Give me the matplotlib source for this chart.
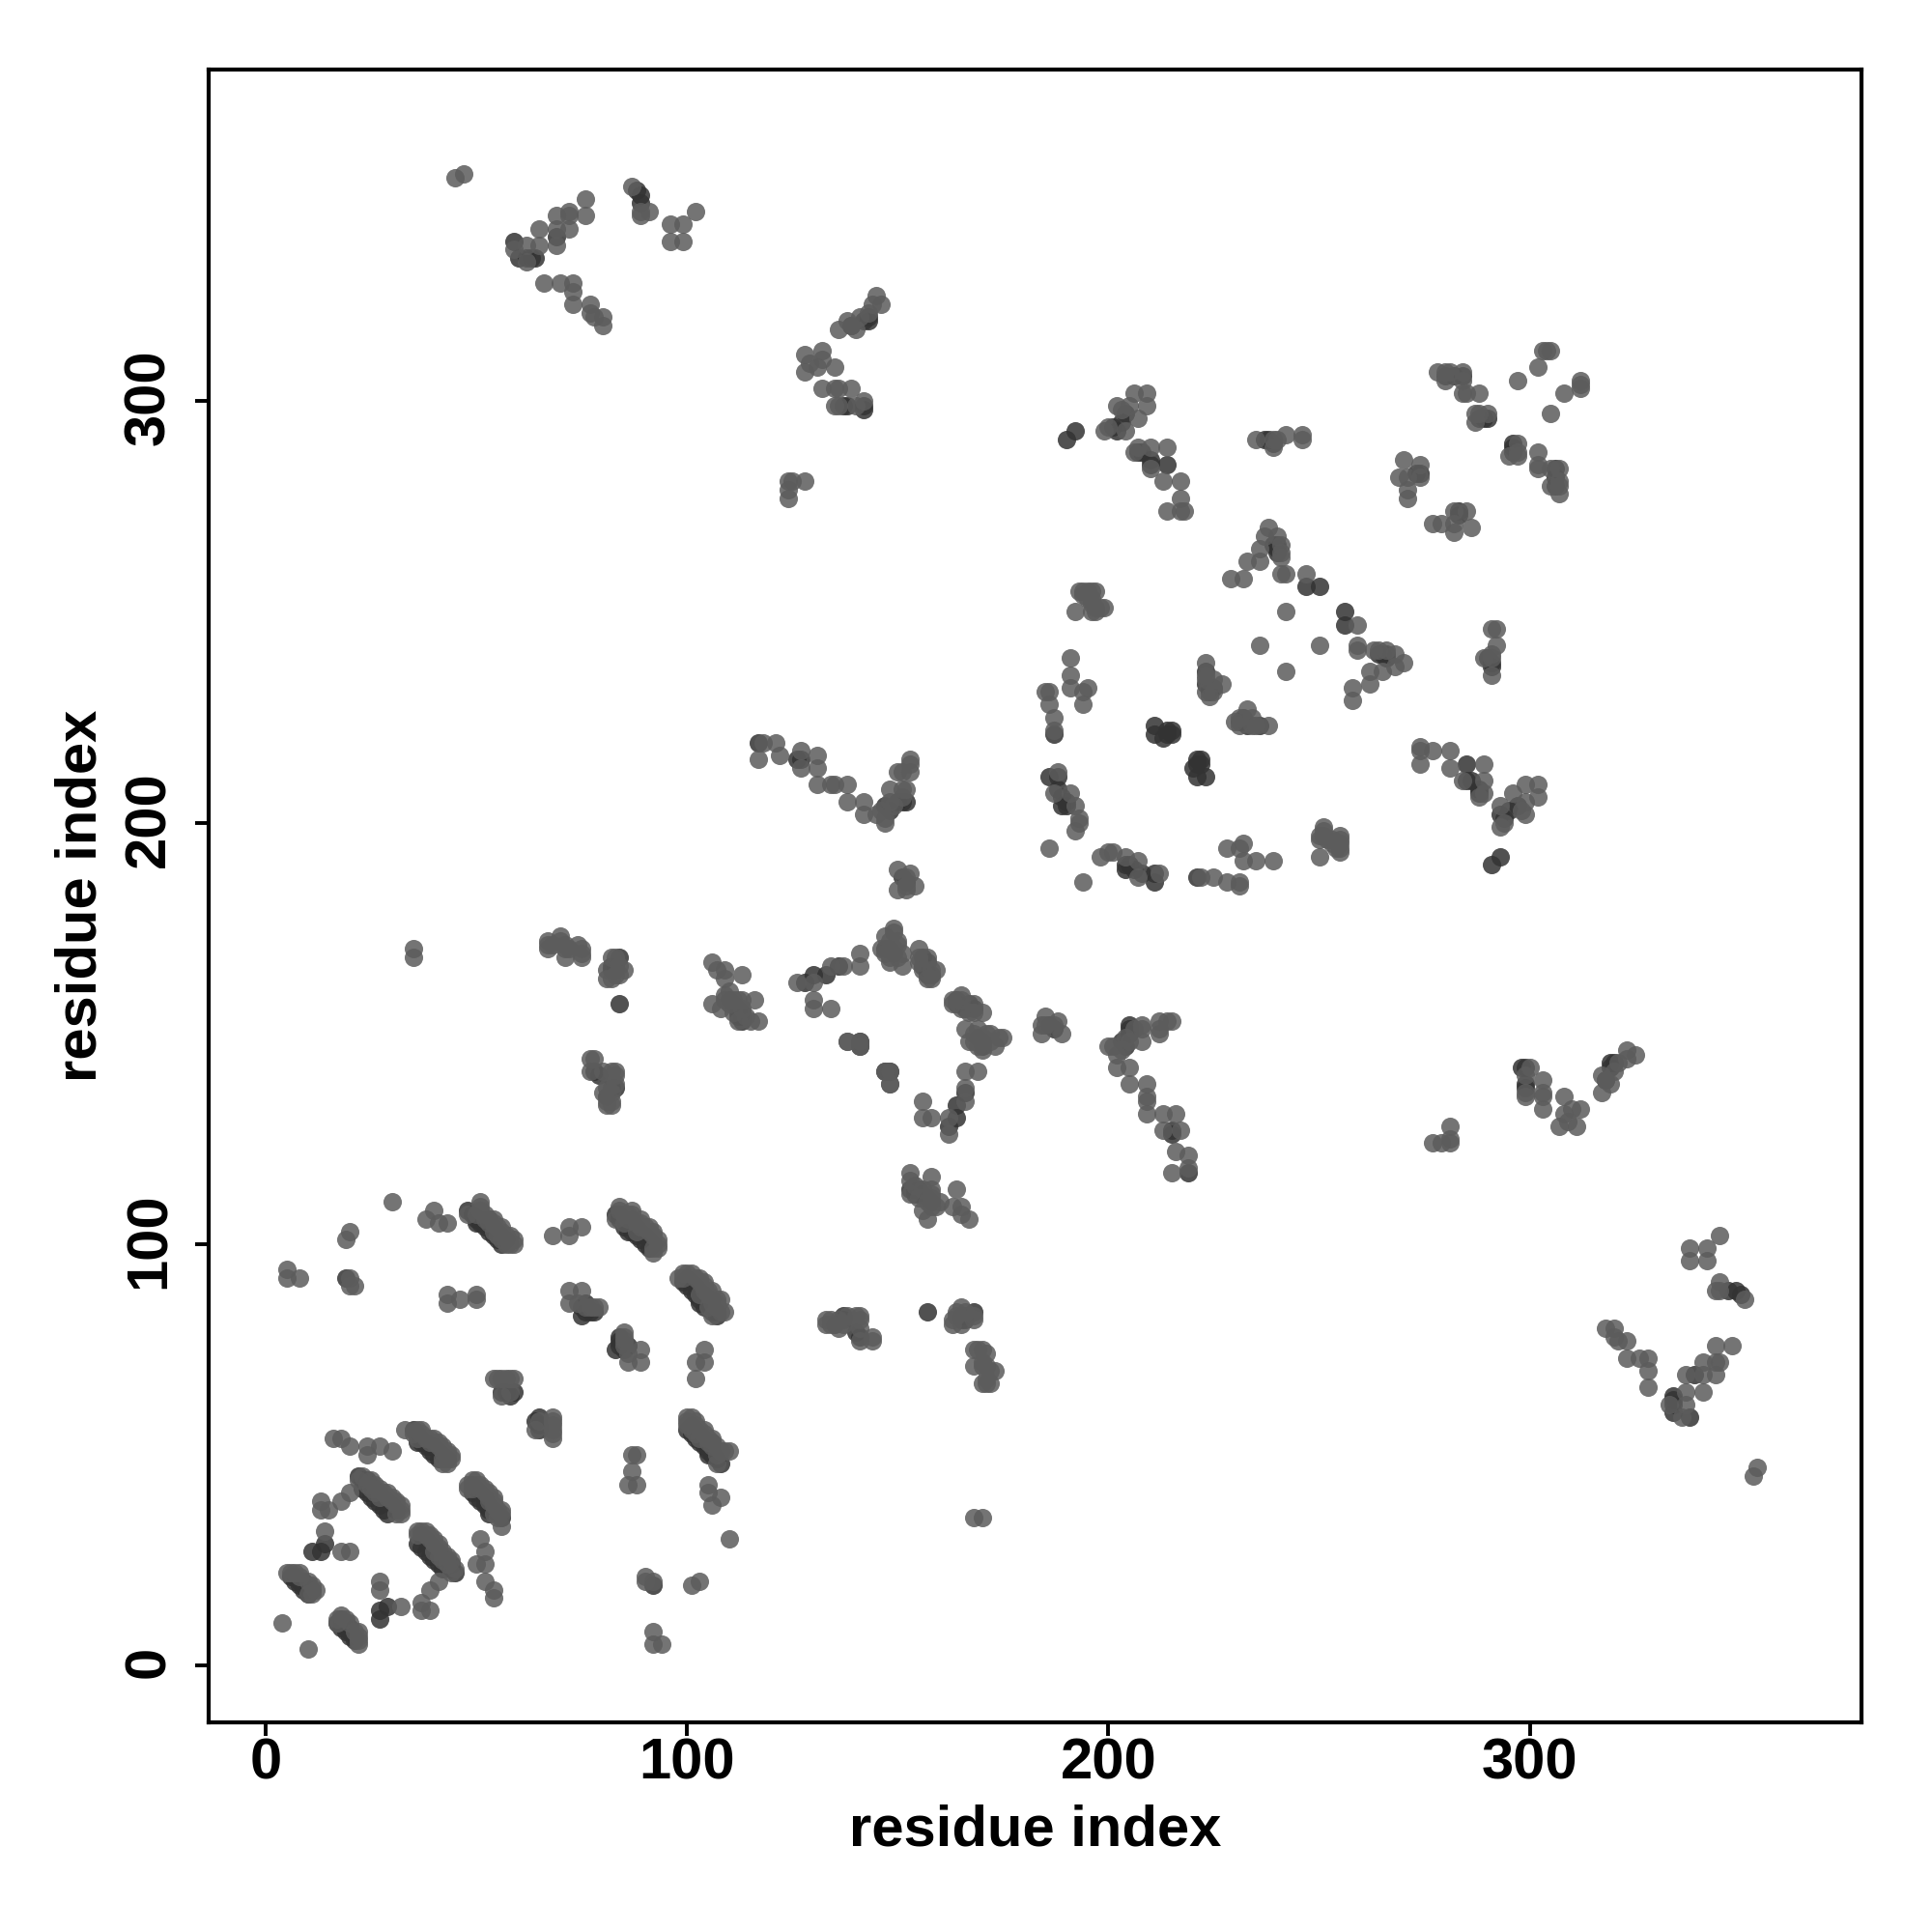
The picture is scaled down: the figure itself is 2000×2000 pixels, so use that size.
#!/usr/bin/env python3
# Residue contact map, symmetric: only the i < j half is listed and then mirrored
import matplotlib
matplotlib.use('Agg')
import matplotlib.pyplot as plt
from matplotlib.transforms import ScaledTranslation
import numpy as np

plt.rcParams['font.family'] = ['Liberation Sans', 'DejaVu Sans']
plt.rcParams['font.weight'] = 'bold'

ticks = [0, 100, 200, 300]
axis_label = 'residue index'

# contacts in darker shade, drawn first
contacts_dark = [
    (6,21),(7,21),(8,20),(9,20),(9,19),(10,19),(10,18),(11,18),(7,20),(8,19),(9,18),(10,17),
    (19,92),(13,27),(14,29),(11,27),
    (22,45),(23,44),(24,44),(25,43),(26,42),(27,41),(28,40),(29,39),(30,38),(31,37),
    (23,42),(24,41),(25,40),(26,39),(27,38),(28,37),(29,36),
    (35,56),(36,55),(37,54),(38,53),(39,52),(40,52),(41,51),(42,50),(43,49),
    (36,53),(37,53),(38,52),(39,51),(40,50),(41,49),
    (48,108),(49,107),(50,106),(51,106),(52,105),(53,106),(53,104),(54,104),(55,103),(56,102),(57,101),
    (50,105),(51,105),(52,104),(53,103),(54,102),(55,101),(56,100),
    (56,65),(57,65),(58,64),(59,65),
    (75,83),(76,84),(77,84),(78,84),(75,85),(76,86),
    (83,107),(84,107),(84,106),(85,106),(86,105),(87,106),(87,104),(88,104),(89,103),(90,102),(91,101),(92,100),
    (85,104),(86,103),(87,103),(88,102),(89,101),(90,100),(91,99),
    (82,166),(83,166),(82,165),(83,165),(84,168),
    (84,157),
    (78,141),(79,140),(82,137),(83,137),(81,135),
    (110,158),(111,157),(112,156),(112,155),(113,155),(113,154),(112,154),(113,153),
    (128,162),(130,164),(133,164),(136,166),
    (147,141),(148,141),
    (148,170),(149,169),(147,170),
    (156,168),(157,167),(157,165),(156,166),(158,164),(157,164),
    (147,204),(148,203),(150,205),(151,205),(152,205),
    (117,219),(126,215),(127,215),
    (151,187),(152,186),
    (187,221),(186,211),(188,211),(188,208),(189,206),(190,205),(189,204),(190,204),
    (211,223),(211,221),(214,221),(215,221),(214,222),(215,222),(213,220),
    (223,236),(223,233),(224,232),(225,232),(224,231),
    (239,266),(240,266),(240,265),(240,264),
    (247,256),(250,256),
    (192,293),(190,291),(201,294),(202,293),(203,295),(204,297),
    (207,288),(208,288),(210,286),(210,285),(214,285),
    (237,291),(238,291),(239,290),
    (137,299),(138,299),(142,299),(142,298),(143,319),(143,320),(142,319),(139,318),
    (60,334),(62,334),(63,334),(64,334),(59,338),(69,339),
    (88,350),(89,349),(89,347),
    (280,306),(282,306),(284,306),(288,296),(289,296),(290,296),
    (273,283),(274,283),
]

# single contacts and the lighter edge of the strips
contacts_light = [
    (4,10),
    (5,22),(6,22),(7,22),(8,22),(8,21),(10,20),(11,19),(12,18),(10,17),(11,17),
    (5,92),(5,94),(8,92),(20,92),(20,90),(21,90),(19,101),(20,103),
    (14,32),(18,27),(20,27),(13,39),(13,37),(15,37),(18,39),(20,41),
    (16,54),(18,54),(20,52),(24,52),(27,52),(30,51),(24,50),
    (23,45),(22,44),(24,43),(25,42),(26,43),(27,40),(28,41),(29,40),(30,39),(31,38),(32,37),(32,36),(31,36),(26,41),
    (25,44),(27,42),(29,41),(30,40),(31,39),(32,38),
    (33,56),(36,56),(37,56),(35,55),(37,55),(36,54),(38,54),(39,54),(39,53),(40,53),(41,52),(42,51),(42,49),(43,50),(44,50),(44,49),(43,48),(42,48),
    (40,54),(41,53),(42,52),(43,51),
    (30,110),(38,106),(40,108),(41,105),(43,105),
    (48,107),(51,110),(51,109),(51,108),(50,107),(52,106),(53,105),(54,105),(54,103),(55,104),(55,102),(56,103),(56,101),(57,102),(58,102),(58,100),(59,100),(59,101),
    (52,107),(54,106),(56,104),(57,100),
    (43,88),(43,86),(46,87),(50,88),(50,87),
    (54,68),(55,68),(56,68),(56,64),(57,68),(58,68),(59,68),(58,65),
    (68,102),(72,104),(72,102),(75,104),(72,89),(75,89),(72,86),(74,86),(79,85),(78,85),(77,85),(76,85),
    (84,109),(84,108),(83,106),(85,107),(85,105),(86,107),(86,106),(87,107),(88,105),(88,103),(89,105),(89,104),(90,104),(91,103),(92,103),(92,102),(92,99),(92,98),(93,101),(93,100),(93,99),
    (87,108),(89,106),(91,104),
    (35,170),(35,168),
    (67,172),(67,170),(67,171),(68,171),(70,173),(70,172),(71,171),(71,170),(71,168),(72,170),(74,171),(75,170),(75,169),(75,168),
    (82,168),(83,168),(84,166),(85,165),(81,165),(81,163),(82,163),(83,164),(84,164),
    (77,144),(78,144),(77,141),(80,141),(82,141),(83,141),(83,140),(83,138),(81,137),(80,136),(82,136),(81,133),(82,133),(81,134),(82,134),
    (106,167),(107,165),(109,165),(113,164),(109,163),(106,157),(110,160),(109,159),(109,158),(110,157),(108,156),(111,158),(112,158),(113,158),(116,158),(111,155),(114,154),(112,153),(115,153),(117,153),(113,156),
    (126,162),(130,162),(134,166),(137,166),(141,169),(141,166),(130,158),(130,156),(134,156),(138,148),(141,148),(141,147),(148,138),
    (149,175),(149,174),(147,173),(148,172),(150,172),(150,171),(146,170),(149,170),(151,169),(148,168),(147,169),(151,166),(150,168),(148,167),
    (155,170),(155,168),(157,168),(155,167),(158,165),(159,165),(156,165),(157,163),(158,163),
    (117,215),(118,219),(121,219),(122,216),(127,217),(131,216),(127,213),(131,213),(131,209),
    (134,209),(135,209),(138,209),(138,205),(142,205),(142,202),(145,202),
    (147,200),(147,201),(146,203),(148,205),(149,204),(148,208),(151,206),(152,208),(151,208),(150,212),(151,212),(153,212),(153,214),(153,215),
    (150,189),(153,188),(154,185),(150,184),(152,184),(152,185),(152,187),
    (192,250),(196,250),(197,250),(197,251),(199,251),(198,251),(196,252),(197,255),(194,255),(195,255),(196,255),(193,255),(194,254),(195,253),(196,253),
    (191,239),(191,235),(191,232),(195,232),(194,228),(194,231),
    (186,231),(185,231),(186,228),(187,225),(187,222),(186,194),
    (188,212),(191,207),(187,207),(192,204),(193,200),(192,198),(193,201),
    (223,238),(223,234),(225,234),(227,233),(223,231),(225,231),(224,230),(223,235),
    (229,258),(232,258),(233,262),(236,262),(236,265),(238,270),(237,268),(240,268),(241,266),(241,264),(241,263),(241,259),(242,259),(247,259),
    (236,242),(242,250),
    (199,293),(200,294),(204,293),(202,299),(203,298),(205,299),(207,296),(206,302),(209,302),(209,299),
    (206,288),(207,289),(210,289),(214,289),(210,284),(213,281),(217,281),(217,277),(214,274),(217,274),(218,274),
    (235,291),(239,289),(240,291),(242,292),(246,292),(246,291),(239,291),
    (136,317),(139,318),(141,320),(143,321),(145,325),(146,323),(144,323),(140,317),(138,319),
    (128,311),(128,307),(132,312),(132,310),(135,308),(131,308),(129,309),
    (132,303),(135,303),(136,303),(139,303),(135,299),(136,299),(140,299),(142,300),
    (124,281),(128,281),(124,277),(125,281),(124,279),
    (45,353),(47,354),
    (76,348),(76,344),(72,344),(72,345),(69,344),(72,341),(65,341),(69,341),(69,337),(65,337),(62,337),(59,336),(62,333),
    (66,328),(70,328),(73,328),(73,326),(73,323),(77,323),(77,321),(80,320),(80,318),(78,320),
    (87,351),(89,345),(91,345),(89,344),(96,342),(99,342),(102,345),(96,338),(99,338),
    (278,307),(280,305),(280,307),(284,307),(284,305),(284,302),(288,302),(287,295),(290,297),(288,297),
    (297,305),(302,308),(303,312),(304,312),(305,312),
    (287,297),(285,302),(281,307),
    (270,286),(274,285),(269,282),(271,282),(274,282),(271,277),(271,279),
]


def both_ways(pairs):
    i, j = np.array(pairs).T
    return np.concatenate([i, j]), np.concatenate([j, i])


fig = plt.figure(figsize=(10, 10), dpi=200)
ax = fig.add_axes([0.1078, 0.1085, 0.8557, 0.8557])

x, y = both_ways(contacts_dark)
ax.scatter(x, y, s=47, color='0.2', alpha=0.85, linewidths=0)
x, y = both_ways(contacts_light)
ax.scatter(x, y, s=47, color='0.36', alpha=0.85, linewidths=0)

ax.set_xlim(-13.6, 378.7)
ax.set_ylim(-13.5, 378.8)
ax.set_xticks(ticks)
ax.set_yticks(ticks)
ax.set_xticklabels(ticks, fontsize=21.5, fontweight='bold')
ax.set_yticklabels(ticks, fontsize=21.5, fontweight='bold', rotation=90, va='center')
ax.tick_params(length=5, width=1.4)
ax.tick_params(axis='x', pad=0.5)
ax.tick_params(axis='y', pad=7)
# the rotated labels sit a little higher than the tick
nudge = ScaledTranslation(0, 1.4 / 72, fig.dpi_scale_trans)
for label in ax.get_yticklabels():
    label.set_transform(label.get_transform() + nudge)
for side in ax.spines.values():
    side.set_linewidth(1.5)
ax.set_xlabel(axis_label, fontsize=21.5, fontweight='bold', labelpad=5)
ax.set_ylabel(axis_label, fontsize=21.5, fontweight='bold', labelpad=5.5)

fig.savefig('out.png', dpi=200)
